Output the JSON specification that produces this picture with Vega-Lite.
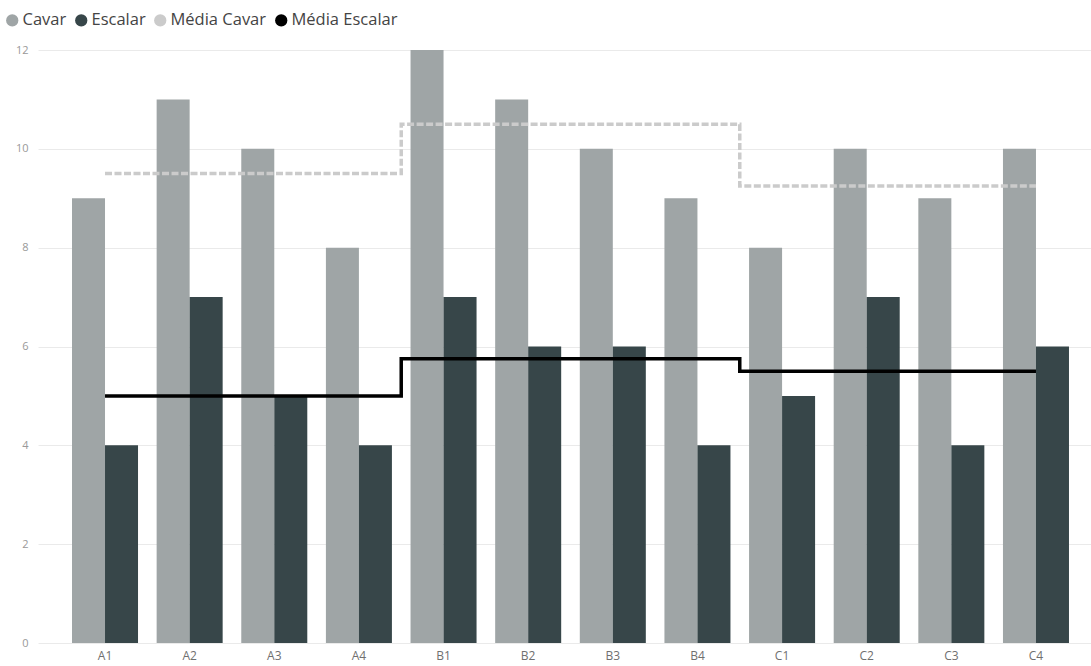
{
  "$schema": "https://vega.github.io/schema/vega-lite/v6.json",
  "width": 1053,
  "height": 593,
  "autosize": {"type": "none"},
  "padding": {"left": 38, "top": 50, "right": 0, "bottom": 23},
  "background": "white",
  "config": {
    "font": "Open Sans",
    "view": {"stroke": null}
  },
  "datasets": {
    "bars": [
      {"cat": "A1", "serie": "Cavar", "value": 9},
      {"cat": "A2", "serie": "Cavar", "value": 11},
      {"cat": "A3", "serie": "Cavar", "value": 10},
      {"cat": "A4", "serie": "Cavar", "value": 8},
      {"cat": "B1", "serie": "Cavar", "value": 12},
      {"cat": "B2", "serie": "Cavar", "value": 11},
      {"cat": "B3", "serie": "Cavar", "value": 10},
      {"cat": "B4", "serie": "Cavar", "value": 9},
      {"cat": "C1", "serie": "Cavar", "value": 8},
      {"cat": "C2", "serie": "Cavar", "value": 10},
      {"cat": "C3", "serie": "Cavar", "value": 9},
      {"cat": "C4", "serie": "Cavar", "value": 10},
      {"cat": "A1", "serie": "Escalar", "value": 4},
      {"cat": "A2", "serie": "Escalar", "value": 7},
      {"cat": "A3", "serie": "Escalar", "value": 5},
      {"cat": "A4", "serie": "Escalar", "value": 4},
      {"cat": "B1", "serie": "Escalar", "value": 7},
      {"cat": "B2", "serie": "Escalar", "value": 6},
      {"cat": "B3", "serie": "Escalar", "value": 6},
      {"cat": "B4", "serie": "Escalar", "value": 4},
      {"cat": "C1", "serie": "Escalar", "value": 5},
      {"cat": "C2", "serie": "Escalar", "value": 7},
      {"cat": "C3", "serie": "Escalar", "value": 4},
      {"cat": "C4", "serie": "Escalar", "value": 6}
    ],
    "mediaCavar": [
      {"cat": "A1", "serie": "Média Cavar", "value": 9.5},
      {"cat": "A2", "serie": "Média Cavar", "value": 9.5},
      {"cat": "A3", "serie": "Média Cavar", "value": 9.5},
      {"cat": "A4", "serie": "Média Cavar", "value": 9.5},
      {"cat": "B1", "serie": "Média Cavar", "value": 10.5},
      {"cat": "B2", "serie": "Média Cavar", "value": 10.5},
      {"cat": "B3", "serie": "Média Cavar", "value": 10.5},
      {"cat": "B4", "serie": "Média Cavar", "value": 10.5},
      {"cat": "C1", "serie": "Média Cavar", "value": 9.25},
      {"cat": "C2", "serie": "Média Cavar", "value": 9.25},
      {"cat": "C3", "serie": "Média Cavar", "value": 9.25},
      {"cat": "C4", "serie": "Média Cavar", "value": 9.25}
    ],
    "mediaEscalar": [
      {"cat": "A1", "serie": "Média Escalar", "value": 5},
      {"cat": "A2", "serie": "Média Escalar", "value": 5},
      {"cat": "A3", "serie": "Média Escalar", "value": 5},
      {"cat": "A4", "serie": "Média Escalar", "value": 5},
      {"cat": "B1", "serie": "Média Escalar", "value": 5.75},
      {"cat": "B2", "serie": "Média Escalar", "value": 5.75},
      {"cat": "B3", "serie": "Média Escalar", "value": 5.75},
      {"cat": "B4", "serie": "Média Escalar", "value": 5.75},
      {"cat": "C1", "serie": "Média Escalar", "value": 5.5},
      {"cat": "C2", "serie": "Média Escalar", "value": 5.5},
      {"cat": "C3", "serie": "Média Escalar", "value": 5.5},
      {"cat": "C4", "serie": "Média Escalar", "value": 5.5}
    ]
  },
  "encoding": {
    "x": {
      "field": "cat",
      "type": "nominal",
      "sort": null,
      "scale": {"paddingInner": 0.22, "paddingOuter": 0.331, "align": 0.607},
      "axis": {
        "title": null,
        "labelAngle": 0,
        "domain": false,
        "ticks": false,
        "labelColor": "#6f6f6f",
        "labelFontSize": 12,
        "labelPadding": 7
      }
    },
    "y": {
      "field": "value",
      "type": "quantitative",
      "scale": {"domain": [0, 12], "nice": false},
      "axis": {
        "title": null,
        "values": [0, 2, 4, 6, 8, 10, 12],
        "domain": false,
        "ticks": false,
        "labelColor": "#999999",
        "labelFontSize": 11,
        "labelPadding": 10,
        "gridColor": "#eaeaea",
        "gridWidth": 1
      }
    },
    "color": {
      "field": "serie",
      "type": "nominal",
      "scale": {
        "domain": ["Cavar", "Escalar", "Média Cavar", "Média Escalar"],
        "range": ["#9fa5a6", "#374649", "#cbcbcb", "#000000"]
      },
      "legend": {
        "title": null,
        "orient": "none",
        "direction": "horizontal",
        "legendX": -34,
        "legendY": -38,
        "symbolType": "circle",
        "symbolSize": 150,
        "symbolStrokeWidth": 0,
        "symbolOpacity": 1,
        "labelFontSize": 16.5,
        "labelColor": "#444444",
        "labelOffset": 2,
        "columnPadding": 6
      }
    }
  },
  "layer": [
    {
      "data": {"name": "bars"},
      "mark": {"type": "bar"},
      "encoding": {
        "xOffset": {"field": "serie", "type": "nominal", "sort": ["Cavar", "Escalar"], "scale": {"paddingInner": 0, "paddingOuter": 0}}
      }
    },
    {
      "data": {"name": "mediaCavar"},
      "mark": {"type": "line", "interpolate": "step", "strokeWidth": 3.5, "strokeDash": [7, 2.5]}
    },
    {
      "data": {"name": "mediaEscalar"},
      "mark": {"type": "line", "interpolate": "step", "strokeWidth": 3.5}
    }
  ]
}
